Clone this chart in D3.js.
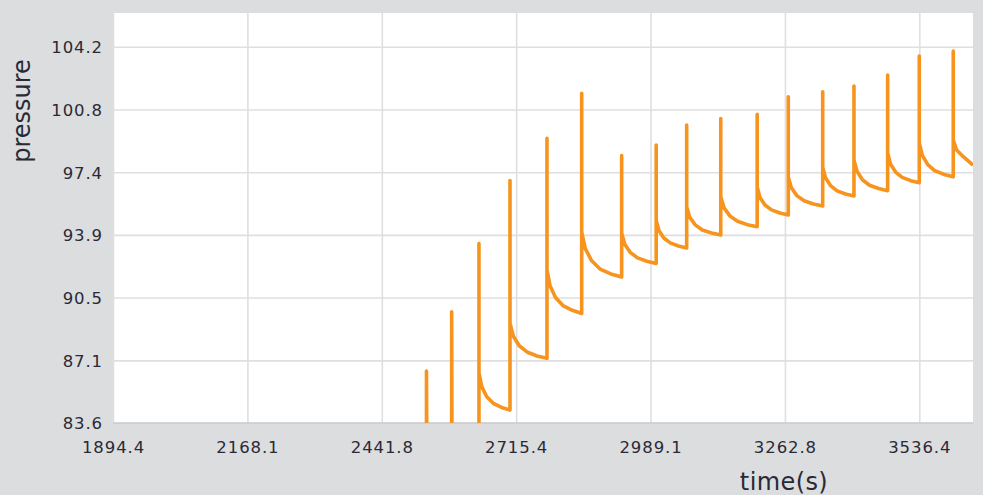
<!DOCTYPE html>
<html><head><meta charset="utf-8">
<script src="https://cdn.jsdelivr.net/npm/d3@7"></script>
<style>html,body{margin:0;padding:0;background:#dcdddf;overflow:hidden}svg{display:block}</style>
</head><body><svg id="c" width="983" height="495"></svg>
<script>
// Sampled pressure trace (time in s, pressure)
const time = [
  2520.0,
  2532.8, 2532.8, 2533.4,
  2584.1, 2584.1, 2584.7,
  2639.7, 2639.7, 2639.7,
  2645.4, 2655.5, 2668.8, 2685.8, 2702.9,
  2702.9, 2702.9,
  2709.7, 2721.7, 2737.5, 2757.9, 2778.2,
  2778.2, 2778.2,
  2784.6, 2795.9, 2810.7, 2829.8, 2848.9,
  2848.9, 2848.9,
  2856.2, 2869.3, 2886.3, 2908.3, 2930.3,
  2930.3, 2930.3,
  2936.6, 2947.9, 2962.6, 2981.6, 3000.6,
  3000.6, 3000.6,
  3006.2, 3016.1, 3029.2, 3045.9, 3062.7,
  3062.7, 3062.7,
  3068.9, 3080.1, 3094.6, 3113.4, 3132.1,
  3132.1, 3132.1,
  3138.8, 3150.7, 3166.2, 3186.3, 3206.3,
  3206.3, 3206.3,
  3212.0, 3222.1, 3235.4, 3252.5, 3269.6,
  3269.6, 3269.6,
  3275.9, 3287.1, 3301.8, 3320.8, 3339.7,
  3339.7, 3339.7,
  3345.4, 3355.6, 3369.0, 3386.2, 3403.4,
  3403.4, 3403.4,
  3409.6, 3420.6, 3435.0, 3453.5, 3472.0,
  3472.0, 3472.0,
  3477.8, 3488.1, 3501.6, 3519.0, 3536.4,
  3536.4, 3536.4,
  3542.6, 3553.7, 3568.2, 3586.9, 3605.6,
  3605.6, 3605.6,
  3612.5, 3626.0, 3645.8
];
const pressure = [
  82.6,
  82.6, 86.49, 82.6,
  82.6, 89.73, 82.6,
  82.6, 93.47, 86.38,
  85.63, 85.08, 84.72, 84.49, 84.35,
  96.92, 89.10,
  88.39, 87.87, 87.53, 87.31, 87.18,
  99.23, 92.02,
  91.14, 90.50, 90.07, 89.81, 89.64,
  101.69, 94.10,
  93.19, 92.52, 92.07, 91.80, 91.63,
  98.28, 94.04,
  93.43, 92.98, 92.68, 92.50, 92.38,
  98.86, 94.75,
  94.18, 93.77, 93.50, 93.33, 93.22,
  99.95, 95.48,
  94.91, 94.49, 94.21, 94.04, 93.93,
  100.31, 96.03,
  95.42, 94.98, 94.69, 94.50, 94.39,
  100.54, 96.56,
  95.99, 95.58, 95.31, 95.14, 95.03,
  101.50, 97.11,
  96.52, 96.09, 95.81, 95.63, 95.52,
  101.78, 97.65,
  97.07, 96.64, 96.35, 96.18, 96.07,
  102.09, 98.04,
  97.42, 96.96, 96.66, 96.48, 96.36,
  102.69, 98.42,
  97.82, 97.38, 97.09, 96.91, 96.80,
  103.73, 98.97,
  98.29, 97.79, 97.45, 97.25, 97.12,
  104.00, 99.13,
  98.59, 98.22, 97.76
];
const xTicks = [1894.4, 2168.1, 2441.8, 2715.4, 2989.1, 3262.8, 3536.4];
const yTicks = [83.64, 87.07, 90.51, 93.94, 97.37, 100.81, 104.24];
const xDomain = [1894.4, 3645.8];
const yDomain = [83.64, 106.09];
const xTitle = "time(s)";
const yTitle = "pressure";

const svg = d3.select("#c");
const L = 113, R = 973, T = 13, B = 423;
const x = d3.scaleLinear().domain(xDomain).range([L, R]);
const y = d3.scaleLinear().domain(yDomain).range([B, T]);

svg.append("rect").attr("width", 983).attr("height", 495).attr("fill", "#dcdddf");
svg.append("rect").attr("x", L).attr("y", T).attr("width", R - L).attr("height", B - T).attr("fill", "#ffffff");

const fontTick = "'DejaVu Sans', Verdana, sans-serif";

// y axis + horizontal gridlines
const gy = svg.append("g").attr("transform", `translate(${L - 3},0)`)
  .call(d3.axisLeft(y).tickValues(yTicks).tickSize(-(R - L + 3)).tickPadding(7).tickFormat(d3.format(".1f")));
gy.select(".domain").remove();
gy.selectAll("line").attr("stroke", "#dfdfe1").attr("stroke-width", 1.6);
gy.selectAll("text").attr("fill", "#2a2a36").style("font-family", fontTick).style("font-size", "16.5px")
  .style("letter-spacing", "0.9px").attr("dy", "0.36em");

// x axis + vertical gridlines
const gx = svg.append("g").attr("transform", `translate(0,${B + 3})`)
  .call(d3.axisBottom(x).tickValues(xTicks).tickSize(-(B - T + 3)).tickPadding(15).tickFormat(d3.format(".1f")));
gx.select(".domain").remove();
gx.selectAll("line").attr("stroke", "#dfdfe1").attr("stroke-width", 1.6);
gx.selectAll("text").attr("fill", "#2a2a36").style("font-family", fontTick).style("font-size", "16.5px")
  .style("letter-spacing", "0.9px");

// bottom border of the plot
svg.append("line").attr("x1", L).attr("x2", R).attr("y1", B).attr("y2", B)
  .attr("stroke", "#c9cacc").attr("stroke-width", 1.5);

// data line
svg.append("clipPath").attr("id", "clip").append("rect")
  .attr("x", L).attr("y", T).attr("width", R - L).attr("height", B - T);
const pts = time.map((t, i) => [t, pressure[i]]);
const line = d3.line().x(d => x(d[0])).y(d => y(d[1])).curve(d3.curveLinear);
svg.append("path").datum(pts).attr("clip-path", "url(#clip)")
  .attr("d", line).attr("fill", "none").attr("stroke", "#f7941e")
  .attr("stroke-width", 3.6).attr("stroke-linejoin", "round").attr("stroke-linecap", "butt");

// axis titles
svg.append("text").attr("transform", "translate(30,111) rotate(-90)").attr("text-anchor", "middle")
  .style("font-family", fontTick).style("font-size", "24px").attr("fill", "#2a2a36").text(yTitle);
svg.append("text").attr("x", 784).attr("y", 490).attr("text-anchor", "middle")
  .style("font-family", fontTick).style("font-size", "24px").style("letter-spacing", "0.4px")
  .attr("fill", "#2a2a36").text(xTitle);
</script>
</body></html>
